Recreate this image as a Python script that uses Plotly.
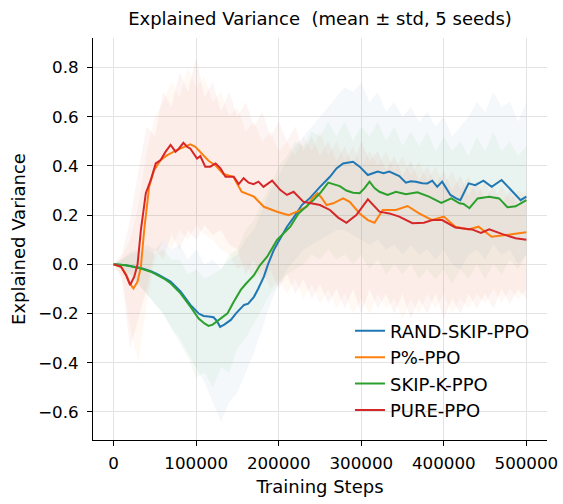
import plotly.graph_objects as go

# mean curves (smoothed)
rand_steps = [0, 15000, 33000, 45000, 53000, 62000, 69000, 81000, 93000, 103000, 109000, 115000, 121000,
              125000, 129000, 134000, 142000, 148000, 158000, 163000, 170000, 175000, 182000, 187000,
              194000, 201000, 210000, 218000, 228000, 238000, 246000, 250000, 262000, 270000, 278000,
              284000, 290000, 298000, 303000, 308000, 314000, 320000, 327000, 334000, 346000, 354000,
              360000, 366000, 374000, 380000, 386000, 392000, 398000, 408000, 415000, 420000, 430000,
              438000, 448000, 458000, 470000, 482000, 493000, 500000]
rand_skip = [0.0, -0.004, -0.015, -0.028, -0.04, -0.055, -0.07, -0.11, -0.165, -0.2, -0.21, -0.212, -0.215,
             -0.23, -0.254, -0.245, -0.226, -0.2, -0.165, -0.16, -0.132, -0.1, -0.05, 0.0,
             0.058, 0.1, 0.153, 0.19, 0.241, 0.27, 0.302, 0.315, 0.356, 0.39, 0.41,
             0.413, 0.417, 0.397, 0.38, 0.363, 0.37, 0.377, 0.37, 0.377, 0.359, 0.332,
             0.338, 0.336, 0.33, 0.329, 0.34, 0.315, 0.336, 0.282, 0.268, 0.261, 0.329,
             0.322, 0.34, 0.315, 0.343, 0.302, 0.261, 0.275]

pct_steps = [0, 9000, 15000, 20000, 24000, 29000, 33000, 37000, 43000, 49000, 57000, 65000, 77000, 85000,
             93000, 99000, 105000, 115000, 123000, 133000, 145000, 155000, 170000, 182000, 198000,
             212000, 222000, 234000, 241000, 247000, 252000, 258000, 266000, 278000, 286000, 298000,
             308000, 316000, 326000, 342000, 356000, 370000, 386000, 400000, 414000, 430000, 442000,
             458000, 475000, 500000]
pct_ppo = [0.0, -0.01, -0.04, -0.08, -0.098, -0.07, -0.01, 0.139, 0.315, 0.383, 0.424, 0.444, 0.465, 0.478,
           0.488, 0.478, 0.458, 0.421, 0.403, 0.367, 0.356, 0.295, 0.275, 0.234, 0.214,
           0.2, 0.214, 0.234, 0.27, 0.289, 0.27, 0.241, 0.248, 0.268, 0.254, 0.207,
           0.18, 0.169, 0.221, 0.221, 0.237, 0.207, 0.18, 0.194, 0.153, 0.142, 0.153,
           0.112, 0.119, 0.13]

skipk_steps = [0, 15000, 33000, 45000, 53000, 62000, 69000, 81000, 93000, 103000, 110000, 115000, 120000,
               125000, 131000, 138000, 145000, 154000, 160000, 170000, 177000, 186000, 198000, 214000,
               224000, 238000, 242000, 250000, 260000, 267000, 274000, 282000, 290000, 298000, 304000,
               310000, 316000, 322000, 332000, 342000, 354000, 368000, 382000, 397000, 409000, 419000,
               424000, 431000, 441000, 455000, 467000, 477000, 487000, 500000]
skip_k = [0.0, -0.004, -0.017, -0.03, -0.044, -0.06, -0.077, -0.118, -0.172, -0.22, -0.24, -0.25, -0.245,
          -0.233, -0.218, -0.199, -0.155, -0.104, -0.08, -0.044, -0.005, 0.031, 0.099, 0.153,
          0.207, 0.248, 0.261, 0.289, 0.332, 0.325, 0.318, 0.3, 0.291, 0.289, 0.31,
          0.336, 0.31, 0.295, 0.282, 0.295, 0.285, 0.293, 0.275, 0.25, 0.268, 0.248,
          0.245, 0.228, 0.268, 0.275, 0.268, 0.232, 0.236, 0.261]

pure_steps = [0, 9000, 15000, 20000, 25000, 29000, 33000, 39000, 45000, 51000, 57000, 63000, 69000, 75000,
              79000, 84500, 89000, 93000, 101000, 105000, 111000, 117000, 123500, 129500, 135500,
              145500, 151500, 157500, 163500, 169500, 175500, 181500, 192000, 202000, 210000, 218000,
              230000, 238000, 250000, 262000, 272000, 282000, 294000, 308000, 315000, 322000, 334000,
              346000, 362000, 376000, 386000, 398000, 414000, 434000, 445000, 455000, 471000, 487000,
              500000]
pure_ppo = [0.0, -0.01, -0.044, -0.084, -0.05, 0.0, 0.139, 0.289, 0.343, 0.41, 0.424, 0.458, 0.485, 0.458,
            0.47, 0.494, 0.478, 0.47, 0.43, 0.44, 0.397, 0.397, 0.41, 0.39, 0.356,
            0.356, 0.326, 0.35, 0.332, 0.326, 0.336, 0.315, 0.34, 0.302, 0.282, 0.295,
            0.254, 0.25, 0.241, 0.221, 0.19, 0.169, 0.2, 0.264, 0.24, 0.214, 0.207,
            0.194, 0.167, 0.169, 0.18, 0.18, 0.15, 0.142, 0.128, 0.142, 0.123, 0.106,
            0.1]

# std bands (mean +/- std, unsmoothed), sampled every 10k steps
band_steps = [0, 10000, 20000, 30000, 40000, 50000, 60000, 70000, 80000, 90000,
              100000, 110000, 120000, 130000, 140000, 150000, 160000, 170000, 180000, 190000,
              200000, 210000, 220000, 230000, 240000, 250000, 260000, 270000, 280000, 290000,
              300000, 310000, 320000, 330000, 340000, 350000, 360000, 370000, 380000, 390000,
              400000, 410000, 420000, 430000, 440000, 450000, 460000, 470000, 480000, 490000,
              500000]
rand_hi = [0.0, 0.02, 0.05, 0.06, 0.08, 0.06, 0.1, 0.06, 0.08, 0.02,
           0.06, 0.0, 0.02, -0.02, 0.02, 0.04, 0.1, 0.14, 0.22, 0.3,
           0.36, 0.42, 0.48, 0.52, 0.56, 0.6, 0.64, 0.68, 0.72, 0.7,
           0.74, 0.66, 0.7, 0.62, 0.66, 0.6, 0.64, 0.58, 0.62, 0.56,
           0.6, 0.52, 0.56, 0.6, 0.66, 0.62, 0.7, 0.64, 0.66, 0.58,
           0.66]
rand_lo = [0.0, -0.02, -0.04, -0.08, -0.12, -0.16, -0.2, -0.26, -0.3, -0.36,
           -0.42, -0.48, -0.56, -0.64, -0.56, -0.52, -0.44, -0.36, -0.26, -0.16,
           -0.08, -0.02, 0.02, 0.06, 0.08, 0.1, 0.12, 0.14, 0.14, 0.12,
           0.1, 0.08, 0.1, 0.06, 0.08, 0.04, 0.08, 0.04, 0.06, 0.02,
           0.06, 0.0, -0.02, 0.04, 0.06, 0.02, 0.08, 0.04, 0.06, 0.0,
           0.04]
pct_hi = [0.0, 0.03, 0.1, 0.24, 0.46, 0.6, 0.66, 0.74, 0.68, 0.8,
          0.72, 0.76, 0.66, 0.7, 0.6, 0.64, 0.54, 0.58, 0.5, 0.54,
          0.46, 0.5, 0.44, 0.52, 0.46, 0.54, 0.44, 0.5, 0.42, 0.48,
          0.4, 0.46, 0.4, 0.46, 0.38, 0.44, 0.36, 0.42, 0.34, 0.4,
          0.32, 0.38, 0.3, 0.36, 0.28, 0.34, 0.26, 0.32, 0.26, 0.3,
          0.28]
pct_lo = [0.0, -0.05, -0.26, -0.4, -0.16, 0.02, 0.1, 0.06, 0.14, 0.1,
          0.16, 0.12, 0.1, 0.06, 0.04, -0.02, 0.0, -0.06, -0.02, -0.1,
          -0.06, -0.12, -0.06, -0.14, -0.08, -0.16, -0.1, -0.18, -0.12, -0.2,
          -0.14, -0.2, -0.12, -0.18, -0.14, -0.22, -0.14, -0.2, -0.12, -0.18,
          -0.12, -0.2, -0.14, -0.18, -0.12, -0.16, -0.1, -0.16, -0.1, -0.14,
          -0.1]
skipk_hi = [0.0, 0.02, 0.04, 0.05, 0.06, 0.04, 0.06, 0.02, 0.02, -0.04,
            -0.02, -0.06, -0.04, -0.02, 0.04, 0.06, 0.14, 0.18, 0.26, 0.32,
            0.4, 0.44, 0.5, 0.48, 0.54, 0.52, 0.58, 0.52, 0.58, 0.5,
            0.56, 0.52, 0.58, 0.5, 0.56, 0.48, 0.54, 0.48, 0.54, 0.46,
            0.52, 0.46, 0.5, 0.44, 0.52, 0.46, 0.54, 0.46, 0.5, 0.44,
            0.48]
skipk_lo = [0.0, -0.02, -0.04, -0.08, -0.12, -0.16, -0.2, -0.26, -0.32, -0.38,
            -0.46, -0.44, -0.5, -0.42, -0.44, -0.34, -0.3, -0.24, -0.18, -0.12,
            -0.08, -0.04, -0.02, 0.0, 0.04, 0.02, 0.06, 0.02, 0.04, 0.0,
            0.04, -0.02, 0.02, -0.04, 0.0, -0.04, 0.0, -0.06, -0.02, -0.06,
            -0.02, -0.08, -0.02, -0.06, 0.0, -0.06, 0.0, -0.04, 0.02, -0.02,
            0.04]
pure_hi = [0.0, 0.04, 0.18, 0.38, 0.56, 0.52, 0.7, 0.64, 0.78, 0.7,
           0.84, 0.68, 0.74, 0.62, 0.7, 0.6, 0.66, 0.56, 0.62, 0.52,
           0.58, 0.5, 0.56, 0.46, 0.52, 0.44, 0.5, 0.42, 0.48, 0.4,
           0.5, 0.42, 0.46, 0.38, 0.44, 0.36, 0.42, 0.34, 0.4, 0.32,
           0.38, 0.3, 0.36, 0.28, 0.34, 0.26, 0.32, 0.24, 0.3, 0.24,
           0.28]
pure_lo = [0.0, -0.06, -0.34, -0.22, -0.1, 0.06, 0.02, 0.12, 0.06, 0.14,
           0.1, 0.16, 0.12, 0.14, 0.08, 0.06, -0.04, 0.02, -0.08, -0.02,
           -0.1, -0.04, -0.12, -0.06, -0.14, -0.08, -0.16, -0.1, -0.18, -0.1,
           -0.2, -0.1, -0.18, -0.12, -0.2, -0.12, -0.22, -0.14, -0.2, -0.12,
           -0.22, -0.14, -0.2, -0.12, -0.18, -0.12, -0.18, -0.1, -0.16, -0.1,
           -0.14]

series = [
    ('RAND-SKIP-PPO', rand_steps, rand_skip, rand_hi, rand_lo, (31, 119, 180)),
    ('P%-PPO', pct_steps, pct_ppo, pct_hi, pct_lo, (255, 127, 14)),
    ('SKIP-K-PPO', skipk_steps, skip_k, skipk_hi, skipk_lo, (44, 160, 44)),
    ('PURE-PPO', pure_steps, pure_ppo, pure_hi, pure_lo, (214, 39, 40)),
]

FONT = 'DejaVu Sans'
fig = go.Figure()

# shaded bands first
for name, xs, ys, hi, lo, rgb in series:
    fig.add_trace(go.Scatter(
        x=band_steps + band_steps[::-1], y=hi + lo[::-1],
        fill='toself', fillcolor='rgba(%d,%d,%d,0.05)' % rgb,
        line=dict(width=0), mode='lines', hoverinfo='skip', showlegend=False))

for name, xs, ys, hi, lo, rgb in series:
    fig.add_trace(go.Scatter(
        x=xs, y=ys, name=name, mode='lines',
        line=dict(color='rgb(%d,%d,%d)' % rgb, width=2)))

fig.update_layout(
    width=563, height=504,
    margin=dict(l=93, r=16, t=38, b=64),
    paper_bgcolor='white', plot_bgcolor='white',
    font=dict(family=FONT, size=16.7, color='black'),
    title=dict(text='Explained Variance  (mean ± std, 5 seeds)', x=0.5, xref='paper',
               xanchor='center', y=1 - 19 / 504, yanchor='middle',
               font=dict(family=FONT, size=18, color='black')),
    legend=dict(x=0.566, y=0.317, xanchor='left', yanchor='top',
                bgcolor='rgba(0,0,0,0)', traceorder='normal',
                font=dict(family=FONT, size=18, color='black')),
    showlegend=True,
)

fig.update_xaxes(
    range=[-25000, 525000], tickvals=[0, 100000, 200000, 300000, 400000, 500000],
    ticktext=['0', '100000', '200000', '300000', '400000', '500000'],
    showline=True, linecolor='black', linewidth=1, ticks='outside', ticklen=5,
    tickcolor='black', showgrid=True, gridcolor='#e3e3e3', gridwidth=1, zeroline=False,
    automargin=False, ticklabelstandoff=3,
    title=dict(text='Training Steps', standoff=8, font=dict(family=FONT, size=18)))
fig.update_yaxes(
    range=[-0.714, 0.92], tickvals=[-0.6, -0.4, -0.2, 0.0, 0.2, 0.4, 0.6, 0.8],
    tickformat='.1f',
    showline=True, linecolor='black', linewidth=1, ticks='outside', ticklen=5,
    tickcolor='black', showgrid=True, gridcolor='#e3e3e3', gridwidth=1, zeroline=False,
    automargin=False, ticklabelstandoff=5,
    title=dict(text='Explained Variance', standoff=7, font=dict(family=FONT, size=18)))

# the default page has an 8px body margin; drop it so the figure sits at (0, 0)
fig.write_html('out.html', config={'displayModeBar': False},
               post_script="document.body.style.margin='0';")
